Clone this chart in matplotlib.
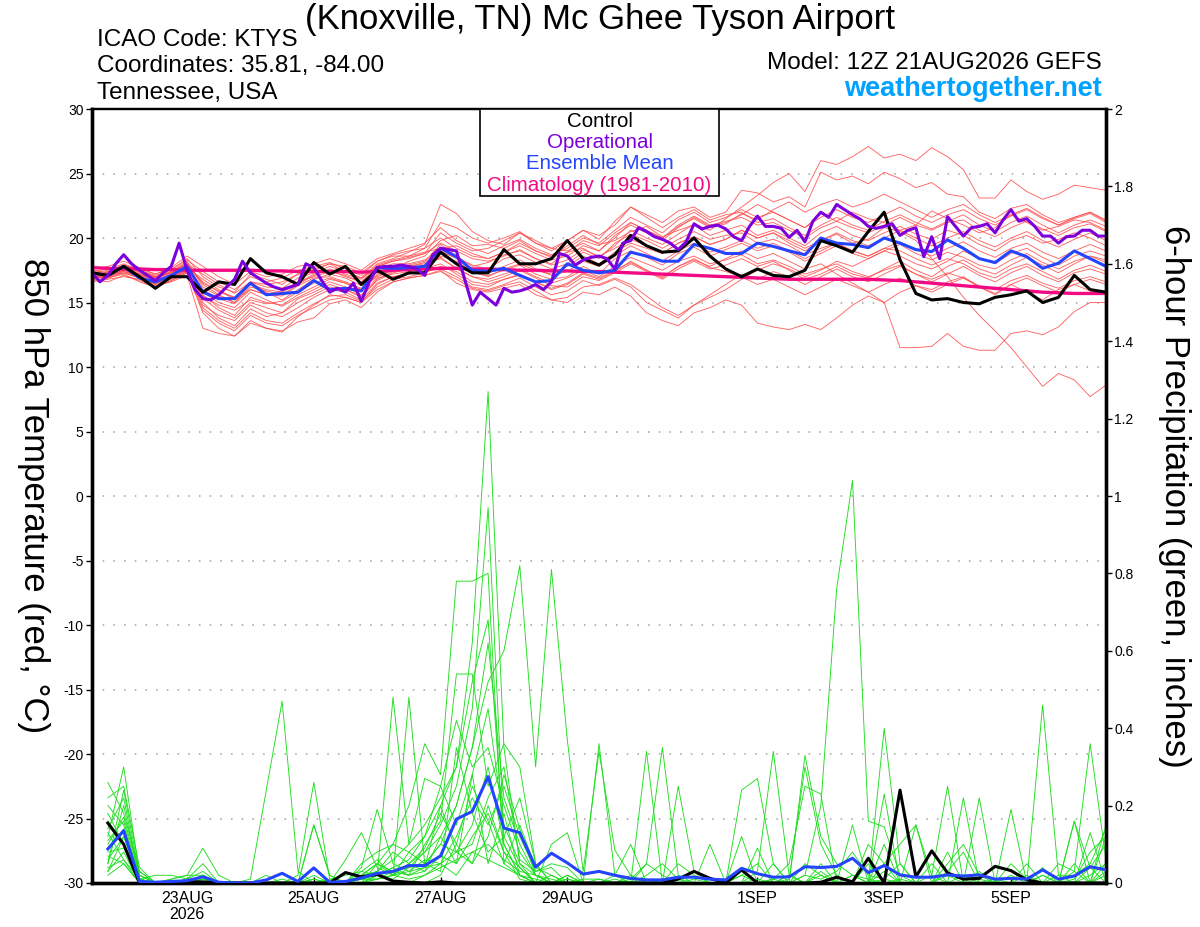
import numpy as np
import matplotlib
matplotlib.use("Agg")
import matplotlib.pyplot as plt
from matplotlib.patches import Rectangle

plt.rcParams['font.family'] = ['Liberation Sans', 'DejaVu Sans']

# ---------------- data ----------------
step_hours = 6            # ensemble output interval
oper_step_hours = 3       # operational output interval
n_steps = 64

x_tick_hours = [36, 84, 132, 180, 252, 300, 348]
x_tick_labels = ["23AUG\n2026", "25AUG", "27AUG", "29AUG", "1SEP", "3SEP", "5SEP"]
temp_ticks = [-30, -25, -20, -15, -10, -5, 0, 5, 10, 15, 20, 25, 30]
precip_ticks = [0, 0.2, 0.4, 0.6, 0.8, 1, 1.2, 1.4, 1.6, 1.8, 2]
precip_tick_labels = ["0", "0.2", "0.4", "0.6", "0.8", "1", "1.2", "1.4", "1.6", "1.8", "2"]

control_temp = [17.3, 17.1, 17.8, 17.0, 16.1, 17.0, 17.0, 15.8, 16.6, 16.4, 18.4, 17.3, 17.0,
                16.4, 18.1, 17.2, 17.8, 16.4, 17.5, 16.8, 17.3, 17.3, 18.9, 18.0, 17.3, 17.3,
                19.1, 18.0, 18.0, 18.4, 19.8, 18.4, 17.9, 18.7, 20.2, 19.4, 18.9, 19.0, 20.0,
                18.6, 17.6, 17.0, 17.6, 17.1, 17.0, 17.5, 19.8, 19.4, 18.9, 20.5, 22.0, 18.3,
                15.7, 15.2, 15.3, 15.0, 14.9, 15.4, 15.6, 15.9, 15.0, 15.4, 17.1, 16.0, 15.8]

mean_temp = [17.3, 17.1, 17.8, 16.9, 16.6, 17.1, 17.8, 15.8, 15.3, 15.3, 16.5, 15.6, 15.7,
             15.8, 16.7, 16.0, 16.1, 15.9, 17.7, 17.65, 17.7, 17.8, 19.2, 18.55, 17.5, 17.4,
             17.65, 17.1, 16.6, 16.7, 18.0, 17.5, 17.3, 17.5, 18.9, 18.6, 18.2, 18.2, 19.5,
             19.2, 18.8, 18.8, 19.6, 19.35, 19.0, 18.7, 20.0, 19.6, 19.5, 19.25, 20.0, 19.6,
             19.1, 18.95, 19.85, 19.2, 18.4, 18.1, 19.0, 18.55, 17.65, 18.05, 19.0, 18.4, 17.8]

clim_temp = [17.7, 17.65, 17.6, 17.6, 17.55, 17.55, 17.5, 17.5, 17.5, 17.5, 17.5, 17.45, 17.45,
             17.4, 17.4, 17.4, 17.4, 17.35, 17.4, 17.5, 17.55, 17.6, 17.65, 17.65, 17.6, 17.6,
             17.55, 17.5, 17.5, 17.45, 17.45, 17.4, 17.4, 17.35, 17.3, 17.25, 17.2, 17.15, 17.1,
             17.05, 17.0, 16.95, 16.9, 16.85, 16.8, 16.8, 16.8, 16.8, 16.8, 16.8, 16.75, 16.7,
             16.6, 16.5, 16.4, 16.3, 16.2, 16.1, 16.0, 15.9, 15.8, 15.75, 15.7, 15.7, 15.7]

oper_temp = [17.3, 16.6, 17.1, 18.0, 18.7, 18.0, 17.5, 17.1, 16.7, 17.3, 17.8, 19.6, 17.5,
             16.0, 15.3, 15.2, 15.6, 16.2, 16.8, 18.2, 17.3, 16.9, 16.5, 16.2, 16.0, 16.2,
             16.4, 18.0, 17.7, 16.7, 15.8, 16.1, 15.8, 16.5, 15.1, 16.6, 17.7, 17.8, 17.8,
             17.9, 17.8, 17.6, 17.1, 18.7, 19.2,
             19.1, 19.0, 16.9, 14.8, 15.8, 15.3, 14.8, 16.1, 15.8, 15.9, 16.1, 16.4, 16.0,
             16.6, 18.8, 18.6, 17.9, 18.3, 18.5, 18.6, 18.4, 17.6, 19.6, 19.8, 20.8, 20.5,
             20.1, 19.9, 19.6, 19.1, 19.7, 21.1, 20.7, 20.9, 21.0, 20.7, 20.1, 19.8, 20.9,
             21.7, 20.9, 20.9, 20.75, 20.05,
             20.6, 19.7, 21.3, 22.0, 21.6, 22.6, 22.2, 21.8, 21.45, 20.9, 20.75, 20.9, 21.1,
             20.2, 20.6, 20.8, 18.55, 20.1, 18.4, 21.65, 20.9, 20.15, 20.8, 20.9, 21.1, 20.4,
             21.4, 22.2, 21.3, 21.5, 20.9, 20.15, 20.15, 19.6, 20.1, 20.15, 20.6, 20.6, 20.15,
             20.15]

temp_m01 = [16.8, 17.0, 17.5, 17.1, 16.5, 17.0, 17.6, 15.0, 13.8, 13.2, 14.5, 13.9, 14.2, 15.3,
            15.8, 16.4, 16.0, 15.4, 16.8, 17.4, 17.9, 18.2, 19.5, 18.6, 17.8, 18.1, 18.7, 19.0,
            18.4, 18.0, 18.9, 19.2, 18.5, 19.4, 20.6, 20.0, 19.5, 20.3, 21.1, 20.6, 21.5, 22.4,
            23.3, 24.3, 25.0, 23.6, 26.0, 25.7, 26.3, 27.1, 26.2, 26.5, 26.0, 27.0, 26.3, 25.3,
            23.1, 23.1, 24.5, 23.6, 23.0, 23.4, 24.1, 23.9, 23.7]
temp_m02 = [17.3, 17.5, 17.9, 17.4, 17.0, 17.4, 18.2, 16.2, 15.5, 15.0, 16.4, 16.0, 15.8, 16.5,
            17.2, 17.5, 17.0, 16.6, 17.8, 18.2, 18.4, 18.8, 20.4, 19.6, 19.0, 19.2, 19.8, 20.4,
            19.6, 19.0, 19.8, 20.6, 19.9, 21.3, 22.4, 21.8, 21.2, 22.1, 22.4, 21.6, 22.0, 23.7,
            23.5, 22.8, 23.2, 22.4, 25.1, 24.5, 24.8, 24.2, 25.1, 24.6, 23.9, 24.3, 23.4, 23.2,
            22.0, 21.5, 22.3, 22.6, 21.8, 21.2, 21.6, 22.0, 21.3]
temp_m03 = [16.9, 17.1, 17.3, 16.9, 16.4, 16.9, 17.4, 15.5, 14.8, 14.4, 15.2, 14.9, 15.1, 15.8,
            16.5, 16.9, 16.5, 16.0, 17.2, 17.8, 17.6, 17.9, 18.6, 18.2, 17.4, 17.0, 17.6, 18.0,
            17.5, 17.2, 17.8, 18.6, 18.0, 18.9, 19.6, 19.2, 18.8, 19.6, 20.1, 19.5, 19.9, 20.6,
            20.0, 20.4, 19.6, 19.0, 19.8, 20.3, 19.6, 19.9, 20.8, 20.5, 19.8, 18.4, 17.0, 15.4,
            14.0, 12.8, 11.5, 10.0, 8.5, 9.5, 9.0, 7.7, 8.6]
temp_m04 = [17.1, 16.9, 17.2, 16.6, 16.2, 16.7, 17.3, 14.2, 13.0, 12.4, 13.6, 13.0, 12.7, 13.9,
            14.8, 15.6, 15.4, 15.0, 16.4, 17.0, 17.2, 17.6, 18.0, 17.2, 16.4, 16.2, 16.8, 17.1,
            16.6, 16.0, 16.4, 17.2, 16.8, 17.4, 18.2, 17.5, 16.9, 17.8, 18.3, 17.8, 18.4, 19.0,
            18.4, 18.8, 18.2, 17.6, 18.0, 17.2, 16.5, 15.8, 15.0, 11.5, 11.5, 11.6, 12.6, 11.6,
            11.3, 11.3, 12.6, 12.8, 12.5, 13.1, 14.3, 15.0, 15.0]
temp_m05 = [16.6, 16.8, 17.0, 16.8, 16.3, 16.6, 17.1, 13.0, 12.6, 12.4, 13.4, 13.0, 12.8, 13.5,
            13.8, 14.9, 15.2, 14.6, 15.8, 16.6, 16.9, 17.1, 17.5, 16.5, 16.0, 15.8, 16.1, 16.4,
            15.6, 15.2, 15.0, 15.8, 15.6, 16.2, 15.5, 14.2, 13.6, 13.2, 14.2, 14.6, 15.2, 14.8,
            13.4, 13.1, 12.9, 13.3, 12.9, 13.8, 14.8, 15.5, 15.0, 15.8, 16.3, 16.0, 16.6, 17.0,
            16.2, 15.6, 16.4, 15.8, 15.2, 16.0, 16.4, 15.9, 15.6]
temp_m06 = [17.4, 17.6, 18.0, 17.5, 17.1, 17.5, 18.4, 17.0, 16.2, 15.8, 17.2, 16.8, 16.4, 17.2,
            17.6, 18.0, 17.4, 16.9, 18.0, 18.4, 18.9, 19.5, 22.6, 21.9, 20.5, 19.8, 19.5, 20.4,
            19.8, 19.2, 19.0, 19.6, 19.0, 20.2, 21.0, 20.4, 19.8, 20.8, 21.6, 20.9, 21.2, 21.8,
            22.6, 22.0, 21.4, 20.8, 21.9, 21.3, 22.0, 21.5, 21.2, 20.6, 21.0, 22.1, 21.5, 21.0,
            20.4, 20.8, 21.8, 21.2, 20.6, 20.9, 21.4, 21.2, 20.6]
temp_m07 = [17.2, 17.0, 17.7, 17.2, 16.9, 17.3, 17.9, 16.5, 15.9, 15.4, 16.6, 15.8, 15.2, 16.0,
            16.8, 17.2, 16.9, 16.3, 17.4, 17.6, 18.2, 18.6, 19.8, 20.2, 19.4, 19.5, 19.2, 19.8,
            19.0, 18.6, 19.4, 20.2, 19.5, 19.8, 20.5, 20.9, 20.1, 20.6, 21.0, 20.2, 20.6, 21.0,
            20.2, 20.6, 20.0, 19.4, 20.4, 20.9, 20.2, 19.8, 20.4, 20.9, 20.3, 19.9, 20.6, 20.2,
            19.5, 19.0, 19.8, 20.2, 19.6, 19.9, 20.4, 20.0, 19.4]
temp_m08 = [16.9, 17.3, 17.5, 17.0, 16.6, 17.1, 17.6, 15.8, 15.0, 14.6, 15.8, 15.2, 14.7, 15.4,
            16.0, 16.6, 16.2, 15.6, 16.9, 17.2, 17.4, 17.8, 18.8, 18.0, 17.3, 17.1, 17.5, 17.9,
            17.2, 16.8, 17.0, 17.8, 17.2, 18.4, 19.0, 18.5, 17.9, 18.8, 19.3, 18.6, 19.1, 19.6,
            19.0, 19.4, 18.9, 18.2, 18.8, 19.4, 18.8, 18.4, 19.0, 19.5, 18.8, 18.3, 18.9, 18.5,
            17.9, 17.6, 18.3, 18.8, 18.1, 17.6, 18.2, 18.6, 18.1]
temp_m09 = [17.0, 16.9, 17.6, 17.2, 16.7, 17.0, 17.7, 16.8, 16.0, 15.2, 16.0, 15.6, 15.9, 16.6,
            17.0, 17.4, 17.1, 16.6, 17.6, 18.0, 18.0, 18.3, 18.9, 18.5, 17.9, 17.6, 18.4, 18.7,
            18.1, 17.6, 18.0, 18.9, 18.4, 19.6, 20.3, 19.8, 19.2, 19.9, 20.5, 19.9, 20.2, 20.4,
            19.6, 19.9, 19.4, 18.7, 19.2, 19.6, 19.0, 18.6, 19.2, 19.0, 18.4, 17.9, 18.4, 18.0,
            17.3, 16.9, 17.6, 18.0, 17.4, 16.8, 17.5, 17.9, 17.4]
temp_m10 = [17.2, 17.4, 17.8, 17.3, 16.9, 17.3, 18.0, 16.0, 15.3, 14.9, 16.0, 15.6, 15.5, 16.3,
            16.9, 17.0, 16.6, 16.1, 17.0, 17.5, 17.8, 18.0, 18.4, 17.7, 17.0, 16.8, 17.2, 17.6,
            17.0, 16.5, 16.9, 17.5, 17.0, 17.8, 18.5, 18.0, 17.5, 18.2, 18.6, 18.0, 18.3, 18.7,
            18.0, 18.3, 17.8, 17.2, 17.6, 18.0, 17.4, 17.0, 17.5, 17.9, 17.2, 16.8, 17.3, 16.9,
            16.3, 16.0, 16.7, 17.1, 16.5, 16.1, 16.7, 17.0, 16.6]
temp_m11 = [16.7, 16.9, 17.3, 16.9, 16.5, 16.8, 17.4, 14.8, 14.0, 13.6, 14.8, 14.2, 13.9, 14.6,
            15.4, 16.0, 15.8, 15.2, 16.5, 17.0, 17.2, 17.4, 17.6, 17.0, 16.2, 16.0, 16.4, 16.9,
            16.2, 15.6, 15.9, 16.7, 16.3, 16.8, 16.2, 15.0, 14.4, 13.8, 14.8, 15.4, 16.0, 16.8,
            17.5, 18.0, 17.6, 17.0, 17.5, 18.2, 17.8, 18.4, 19.0, 18.6, 18.0, 17.6, 18.2, 19.0,
            18.4, 18.0, 18.8, 19.2, 18.5, 17.9, 18.6, 19.0, 18.6]
temp_m12 = [17.5, 17.3, 17.9, 17.6, 17.2, 17.6, 18.3, 17.4, 16.6, 16.0, 17.0, 16.6, 16.9, 17.5,
            17.8, 18.1, 17.6, 17.1, 18.2, 18.6, 18.6, 18.9, 19.2, 19.4, 18.8, 18.4, 18.9, 19.4,
            18.8, 18.3, 18.6, 19.4, 19.0, 20.0, 21.2, 20.6, 20.0, 21.0, 21.7, 21.0, 21.3, 21.6,
            21.0, 21.2, 20.6, 20.0, 20.8, 21.3, 20.8, 20.4, 21.0, 21.6, 21.0, 20.6, 21.2, 21.4,
            20.6, 20.1, 20.8, 21.3, 20.7, 20.2, 20.8, 21.1, 20.5]
temp_m13 = [16.8, 17.2, 17.4, 17.0, 16.6, 17.0, 17.5, 15.3, 14.4, 13.8, 15.0, 14.6, 14.2, 15.0,
            15.6, 16.2, 16.0, 15.5, 16.7, 17.3, 17.6, 17.8, 18.5, 17.6, 17.0, 16.6, 17.0, 17.5,
            16.9, 16.3, 16.2, 17.0, 16.7, 17.3, 18.0, 17.4, 16.8, 17.6, 18.2, 17.6, 17.9, 18.4,
            17.8, 18.2, 17.5, 16.8, 17.2, 17.8, 17.2, 16.9, 17.6, 18.2, 17.5, 17.0, 17.8, 18.3,
            17.6, 17.2, 17.9, 18.5, 17.9, 17.3, 18.0, 18.6, 18.3]
temp_m14 = [17.3, 17.1, 17.8, 17.4, 17.0, 17.3, 18.1, 16.4, 15.6, 15.0, 16.2, 15.9, 15.6, 16.4,
            17.1, 17.6, 17.2, 16.8, 17.9, 18.3, 18.6, 19.2, 21.2, 20.8, 20.0, 19.6, 20.0, 20.5,
            19.6, 19.2, 19.8, 20.6, 20.2, 21.0, 22.4, 21.6, 20.8, 21.6, 22.2, 21.4, 21.8, 22.0,
            21.2, 21.5, 20.8, 20.2, 21.0, 21.6, 21.0, 20.6, 21.3, 21.8, 21.2, 20.7, 21.3, 21.8,
            21.0, 20.5, 21.2, 21.7, 21.0, 20.4, 21.0, 21.4, 20.9]
temp_m15 = [17.0, 17.4, 17.6, 17.1, 16.8, 17.2, 17.8, 15.6, 14.6, 14.0, 15.4, 15.0, 14.8, 15.6,
            16.2, 16.8, 16.5, 16.0, 17.1, 17.5, 17.8, 18.1, 19.0, 18.4, 17.6, 17.3, 17.8, 18.3,
            17.6, 17.1, 17.4, 18.2, 17.8, 18.6, 19.4, 18.8, 18.2, 19.0, 19.6, 18.9, 19.3, 19.8,
            19.2, 19.6, 19.0, 18.4, 19.0, 19.6, 19.0, 18.6, 19.2, 19.7, 19.1, 18.6, 19.2, 19.7,
            19.0, 18.5, 19.2, 19.6, 18.9, 18.4, 19.0, 19.5, 19.0]
temp_m16 = [17.6, 17.8, 18.2, 17.7, 17.2, 17.7, 18.6, 17.8, 17.0, 16.4, 17.4, 17.0, 17.2, 17.8,
            18.0, 18.4, 18.0, 17.5, 18.4, 18.8, 19.2, 19.6, 20.8, 19.8, 19.2, 18.8, 19.4, 19.9,
            19.2, 18.7, 19.2, 20.0, 19.6, 20.6, 21.6, 21.0, 20.4, 21.4, 22.0, 21.2, 21.6, 22.2,
            21.6, 22.0, 21.4, 20.8, 21.6, 22.2, 21.6, 21.2, 21.8, 22.4, 21.7, 21.2, 21.8, 22.2,
            21.5, 21.0, 21.7, 22.2, 21.5, 21.0, 21.6, 22.0, 21.4]
temp_m17 = [16.9, 17.0, 17.4, 17.0, 16.4, 16.9, 17.5, 14.6, 13.6, 13.0, 14.2, 13.6, 13.4, 14.2,
            14.9, 15.5, 15.6, 15.1, 16.2, 16.8, 17.0, 17.3, 17.8, 17.4, 16.6, 16.4, 16.8, 17.2,
            16.6, 16.1, 16.5, 17.3, 16.9, 17.5, 18.1, 17.5, 17.0, 17.8, 18.4, 17.7, 17.4, 17.0,
            16.4, 16.8, 16.2, 15.6, 16.2, 16.8, 16.3, 15.8, 16.4, 16.9, 16.3, 15.8, 16.4, 16.9,
            16.2, 15.7, 16.4, 16.9, 16.3, 15.8, 16.4, 16.8, 16.4]
temp_m18 = [17.1, 17.3, 17.7, 17.2, 16.7, 17.1, 17.9, 16.6, 15.8, 15.4, 16.6, 16.2, 16.1, 16.9,
            17.3, 17.8, 17.4, 16.9, 17.8, 18.2, 18.5, 18.8, 19.6, 19.0, 18.4, 18.2, 18.6, 19.1,
            18.4, 17.9, 18.3, 19.1, 18.6, 19.2, 19.9, 19.4, 18.8, 19.6, 20.1, 19.5, 19.9, 20.6,
            20.0, 20.4, 19.8, 19.2, 19.8, 20.4, 19.8, 19.4, 20.0, 20.6, 20.0, 19.4, 20.0, 20.5,
            19.8, 19.3, 20.0, 20.5, 19.8, 19.3, 19.9, 20.4, 19.8]
temp_m19 = [16.8, 16.6, 17.1, 16.7, 16.2, 16.7, 17.3, 14.4, 13.4, 12.8, 14.0, 13.4, 13.2, 14.0,
            14.6, 15.2, 15.4, 15.0, 16.0, 16.6, 16.9, 17.1, 17.4, 16.8, 16.1, 15.9, 16.3, 16.6,
            15.9, 15.2, 15.4, 16.2, 16.4, 16.9, 16.4, 15.5, 14.6, 14.0, 14.8, 15.6, 16.4, 17.2,
            16.8, 17.4, 17.0, 16.4, 17.0, 17.6, 17.0, 16.6, 17.2, 17.8, 17.2, 16.6, 17.2, 17.8,
            17.1, 16.6, 17.3, 17.8, 17.1, 16.6, 17.3, 17.6, 17.2]
temp_m20 = [17.4, 17.2, 17.9, 17.5, 17.0, 17.4, 18.0, 17.2, 16.4, 15.7, 16.6, 16.4, 16.6, 17.2,
            17.5, 18.0, 17.8, 17.3, 18.2, 18.7, 19.0, 19.2, 20.0, 19.2, 18.6, 18.4, 18.9, 19.6,
            19.0, 18.5, 18.9, 19.8, 19.4, 20.4, 21.2, 20.6, 20.0, 20.9, 21.5, 20.8, 21.1, 21.9,
            21.4, 22.2, 22.8, 22.0, 22.6, 23.0, 22.4, 22.8, 23.4, 22.8, 22.2, 21.6, 22.2, 22.6,
            21.8, 21.2, 21.8, 22.3, 21.6, 21.0, 21.5, 21.9, 21.2]

# 6-hour precipitation (inches), valid from hour 6 to hour 384
control_precip = [0.155, 0.10, 0, 0, 0, 0.003, 0.003, 0,
                  0, 0, 0, 0, 0, 0, 0, 0.027,
                  0.016, 0.022, 0.005, 0.002, 0, 0.003, 0, 0,
                  0, 0, 0, 0, 0, 0, 0, 0,
                  0, 0, 0, 0, 0.01, 0.03, 0.012, 0,
                  0.034, 0, 0, 0, 0, 0.002, 0.015, 0.003,
                  0.064, 0, 0.24, 0.016, 0.083, 0.026, 0.01, 0.012,
                  0.043, 0.032, 0.008, 0, 0, 0, 0, 0]
mean_precip = [0.088, 0.135, 0.004, 0.002, 0.004, 0.006, 0.016, 0.002,
               0.0, 0.0, 0.008, 0.025, 0.004, 0.039, 0.002, 0.004,
               0.013, 0.025, 0.03, 0.045, 0.045, 0.07, 0.165, 0.185,
               0.275, 0.142, 0.13, 0.041, 0.077, 0.052, 0.023, 0.03,
               0.02, 0.012, 0.008, 0.008, 0.015, 0.015, 0.01, 0.008,
               0.038, 0.024, 0.015, 0.016, 0.042, 0.04, 0.043, 0.064,
               0.027, 0.045, 0.021, 0.015, 0.015, 0.021, 0.018, 0.021,
               0.01, 0.012, 0.01, 0.034, 0.01, 0.018, 0.042, 0.034]

prcp_m01 = [.12, .30, .02, 0, 0, 0, 0, 0,  0, 0, 0, 0, 0, 0, 0, 0,
            .02, .05, .10, .08, .12, .20, .30, .62,  1.27, .35, .05, .02, 0, 0, 0, .01,
            0, 0, .02, .05, .01, 0, 0, 0,  .02, 0, 0, 0, .05, .02, 0, 0,
            0, .03, 0, 0, .02, 0, 0, 0,  0, 0, 0, .04, 0, 0, .02, .05]
prcp_m02 = [.26, .18, .03, 0, .01, .02, .09, .02,  0, 0, 0, 0, 0, 0, .01, .02,
            .03, .02, .01, .04, .08, .15, .25, .45,  .97, .12, .04, 0, .02, 0, 0, 0,
            .01, 0, 0, 0, 0, .03, .01, 0,  .24, .27, .05, 0, .02, .01, .03, .08,
            .02, .01, .05, 0, 0, .02, 0, 0,  0, .05, .01, 0, 0, .16, .04, 0]
prcp_m03 = [.05, .20, .01, 0, 0, 0, 0, 0,  0, 0, 0, 0, 0, 0, 0, 0,
            .05, .08, .10, .20, .36, .28, .78, .78,  .80, .05, .02, 0, 0, .01, 0, 0,
            0, 0, 0, 0, 0, 0, 0, 0,  0, .01, 0, 0, .33, .12, .05, .02,
            0, .01, 0, 0, 0, .05, .10, .02,  0, 0, 0, .02, 0, .01, .08, .12]
prcp_m04 = [.09, .14, 0, 0, 0, 0, 0, 0,  0, 0, 0, 0, 0, .01, 0, 0,
            0, .01, .02, .05, .08, .12, .20, .35,  .52, .60, .82, .30, .81, .37, .03, .34,
            .085, .02, 0, 0, 0, 0, 0, 0,  0, 0, 0, 0, 0, .02, 0, 0,
            0, .23, 0, 0, 0, 0, 0, .03,  0, 0, 0, 0, 0, .05, 0, 0]
prcp_m05 = [.16, .10, 0, 0, 0, 0, .02, 0,  0, .01, .24, .47, .03, 0, 0, 0,
            .01, .03, .06, .10, .15, .22, .30, .52,  .68, .10, .02, 0, 0, .01, 0, 0,
            0, 0, 0, 0, 0, .01, 0, 0,  .02, .05, 0, 0, 0, 0, 0, 0,
            0, .40, .05, 0, 0, 0, 0, .01,  0, 0, 0, .02, 0, 0, 0, .02]
prcp_m06 = [.22, .25, .04, 0, 0, 0, 0, 0,  0, 0, 0, 0, 0, .15, .02, 0,
            .02, .05, .03, .02, .10, .16, .54, .54,  .25, .36, .30, .05, 0, .02, 0, 0,
            0, .01, .05, .35, .02, 0, 0, 0,  0, 0, .01, 0, .02, .20, .76, 1.04,
            .16, .145, .02, 0, 0, 0, .02, 0,  0, 0, 0, 0, 0, 0, 0, 0]
prcp_m07 = [.06, .12, .01, .02, .02, .01, .05, 0,  0, 0, 0, 0, .02, .26, .01, 0,
            .01, .02, .04, .06, .12, .25, .42, .30,  .35, .20, .08, .02, 0, 0, 0, 0,
            0, 0, 0, 0, .25, .03, 0, 0,  0, 0, .05, 0, 0, 0, 0, .02,
            .01, 0, 0, .15, .02, .25, 0, 0,  0, 0, 0, 0, 0, .03, .36, .06]
prcp_m08 = [.03, .08, 0, 0, 0, .01, .03, 0,  0, 0, 0, 0, 0, .15, .02, 0,
            0, .02, .48, .10, .27, .25, .15, .28,  .45, .15, .05, 0, 0, 0, 0, 0,
            0, 0, .01, 0, 0, 0, 0, 0,  0, 0, 0, 0, 0, 0, 0, .15,
            0, 0, 0, 0, 0, 0, 0, .22,  0, 0, 0, 0, 0, 0, 0, 0]
prcp_m09 = [.20, .15, 0, 0, 0, 0, .02, 0,  0, 0, 0, 0, 0, 0, 0, .06,
            .13, .04, .02, .48, .05, .10, .08, .15,  .30, .10, .02, 0, .10, .13, 0, 0,
            .02, .10, 0, 0, 0, 0, 0, 0,  0, 0, .01, .05, .25, .23, 0, 0,
            0, 0, 0, 0, 0, 0, 0, 0,  0, 0, .02, 0, 0, 0, 0, 0]
prcp_m10 = [.04, .06, .01, 0, .01, .02, .02, 0,  0, 0, 0, 0, 0, 0, 0, 0,
            .04, .19, .05, .03, .06, .05, .12, .22,  .15, .25, .12, .03, .04, 0, 0, .36,
            .02, 0, 0, 0, 0, 0, .10, 0,  0, 0, 0, .02, 0, 0, 0, 0,
            0, .10, 0, 0, 0, 0, 0, 0,  0, .19, 0, 0, 0, 0, 0, .12]
prcp_m11 = [.10, .17, .02, 0, 0, 0, 0, 0,  0, 0, 0, 0, 0, .04, 0, 0,
            .02, .03, .08, .05, .09, .18, .10, .25,  .16, .05, .15, .04, .02, 0, 0, 0,
            0, 0, 0, 0, 0, 0, 0, 0,  .12, 0, 0, 0, 0, 0, 0, 0,
            .05, 0, 0, 0, 0, 0, .22, 0,  0, 0, 0, .46, .02, 0, 0, 0]
prcp_m12 = [.14, .22, .01, 0, 0, .01, .01, 0,  0, 0, 0, 0, 0, 0, 0, 0,
            0, .05, .02, .08, .05, .03, .35, .18,  .08, .12, .22, .05, 0, 0, .01, .01,
            0, 0, .34, 0, 0, 0, 0, 0,  0, .03, .34, .02, 0, .05, 0, 0,
            0, 0, 0, 0, 0, 0, 0, 0,  0, 0, 0, 0, 0, .16, 0, .03]
prcp_m13 = [.07, .05, 0, 0, 0, 0, .01, 0,  0, 0, 0, .01, 0, 0, 0, 0,
            .01, .01, .03, .04, .05, .10, .20, .35,  .62, .22, .10, .02, 0, .02, 0, 0,
            0, 0, 0, 0, 0, 0, 0, 0,  0, .09, 0, 0, 0, 0, 0, 0,
            0, .05, .10, .15, 0, 0, 0, 0,  .01, 0, 0, 0, 0, 0, .13, 0]
prcp_m14 = [.18, .10, .01, 0, 0, 0, 0, 0,  0, 0, .02, 0, 0, .02, 0, 0,
            .02, .02, .03, .02, .04, .05, .08, .10,  .22, .30, .06, .03, .05, .04, 0, 0,
            0, 0, .05, .02, 0, 0, 0, 0,  0, 0, 0, .01, .30, .10, .02, 0,
            0, 0, 0, 0, .05, 0, 0, 0,  0, .02, 0, 0, .05, .03, 0, .15]
prcp_m15 = [.02, .05, 0, 0, 0, 0, 0, 0,  0, 0, 0, 0, 0, 0, 0, 0,
            0, .02, .04, .02, .03, .07, .05, .12,  .18, .08, .04, 0, 0, 0, 0, 0,
            0, 0, 0, 0, 0, 0, 0, 0,  0, 0, 0, 0, 0, 0, 0, 0,
            .10, .05, 0, 0, 0, .08, 0, 0,  0, 0, .05, 0, 0, 0, 0, .05]
prcp_m16 = [.08, .09, .03, 0, 0, 0, 0, 0,  0, 0, 0, 0, 0, 0, 0, 0,
            .03, .06, .02, .01, .02, .04, .06, .08,  .10, .06, .03, .02, .01, 0, 0, 0,
            0, .02, 0, 0, .05, .02, 0, 0,  .03, 0, 0, .02, 0, 0, 0, 0,
            0, 0, 0, 0, 0, .03, .08, 0,  0, 0, 0, 0, .02, .02, .05, .14]
prcp_m17 = [.05, .24, .02, 0, 0, 0, .01, 0,  0, 0, 0, 0, 0, .01, 0, 0,
            .01, .01, .02, .03, .04, .20, .08, .05,  .12, .28, .14, .02, 0, 0, 0, 0,
            0, 0, 0, 0, 0, 0, 0, 0,  0, 0, 0, 0, 0, 0, 0, 0,
            0, 0, 0, 0, 0, 0, 0, 0,  0, 0, 0, 0, 0, 0, 0, 0]
prcp_m18 = [.13, .06, 0, 0, 0, 0, 0, 0,  0, 0, 0, 0, 0, 0, 0, 0,
            0, 0, 0, 0, .02, .05, .02, .08,  .06, .04, .02, .01, 0, 0, 0, 0,
            0, 0, 0, .01, 0, 0, 0, 0,  0, 0, 0, 0, 0, .03, 0, .02,
            0, 0, .01, 0, 0, 0, 0, 0,  0, 0, 0, 0, 0, 0, .04, .10]
prcp_m19 = [.03, .12, .01, 0, 0, 0, 0, 0,  0, 0, 0, 0, 0, 0, 0, 0,
            0, 0, 0, 0, 0, .02, .10, .05,  .20, .08, .01, 0, 0, 0, 0, 0,
            0, 0, 0, 0, 0, 0, 0, 0,  0, 0, 0, 0, 0, 0, 0, 0,
            0, 0, 0, 0, 0, 0, 0, 0,  0, 0, 0, 0, 0, 0, 0, 0]
prcp_m20 = [.11, .16, .01, 0, 0, 0, 0, 0,  0, 0, 0, 0, 0, 0, 0, 0,
            0, .01, .02, .05, .03, .12, .05, .28,  .05, .18, .02, 0, 0, 0, 0, 0,
            0, 0, 0, 0, 0, 0, 0, 0,  0, 0, 0, 0, 0, 0, 0, 0,
            0, 0, 0, 0, 0, 0, 0, 0,  0, 0, 0, 0, 0, 0, 0, 0]

temp_members = [temp_m01, temp_m02, temp_m03, temp_m04, temp_m05, temp_m06, temp_m07,
                temp_m08, temp_m09, temp_m10, temp_m11, temp_m12, temp_m13, temp_m14,
                temp_m15, temp_m16, temp_m17, temp_m18, temp_m19, temp_m20]
prcp_members = [prcp_m01, prcp_m02, prcp_m03, prcp_m04, prcp_m05, prcp_m06, prcp_m07,
                prcp_m08, prcp_m09, prcp_m10, prcp_m11, prcp_m12, prcp_m13, prcp_m14,
                prcp_m15, prcp_m16, prcp_m17, prcp_m18, prcp_m19, prcp_m20]

hours = np.arange(n_steps + 1) * step_hours
hours_oper = np.arange(2 * n_steps + 1) * oper_step_hours
hours_prcp = hours[1:]

# ---------------- figure ----------------
fig = plt.figure(figsize=(12, 9.27), dpi=100)
ax = fig.add_axes([92 / 1200, 1 - 883 / 927, (1106 - 92) / 1200, (883 - 109) / 927])
ax2 = ax.twinx()

RED = '#ff4a4a'
GREEN = '#1ede1e'
PURPLE = '#7d00dc'
BLUE = '#2444ff'
PINK = '#f20a84'

for m in temp_members:
    ax.plot(hours, m, color=RED, lw=0.65, alpha=0.85, zorder=2)
ax.plot(hours, clim_temp, color=PINK, lw=2.4, zorder=4, solid_capstyle='butt')
ax.plot(hours, mean_temp, color=BLUE, lw=2.2, zorder=5)
ax.plot(hours, control_temp, color='black', lw=2.2, zorder=6)
ax.plot(hours_oper, oper_temp, color=PURPLE, lw=2.2, zorder=7)

for m in prcp_members:
    ax2.plot(hours_prcp, m, color=GREEN, lw=0.65, zorder=2)
ax2.plot(hours_prcp, control_precip, color='black', lw=2.2, zorder=5)
ax2.plot(hours_prcp, mean_precip, color=BLUE, lw=2.2, zorder=6)

ax.set_xlim(0, n_steps * step_hours)
ax.set_ylim(-30, 30)
ax2.set_ylim(0, 2)

ax.set_yticks(temp_ticks)
ax.set_yticklabels([str(t) for t in temp_ticks])
ax2.set_yticks(precip_ticks)
ax2.set_yticklabels(precip_tick_labels)
ax.set_xticks(x_tick_hours)
ax.set_xticklabels(x_tick_labels, fontsize=11.5, linespacing=1.05)

ax.tick_params(axis='y', direction='out', length=4, width=1, labelsize=10, pad=2)
ax2.tick_params(axis='y', direction='out', length=4, width=1, labelsize=10, pad=2)
ax.tick_params(axis='x', direction='in', length=4, width=1, pad=6)

for t in temp_ticks[1:-1]:
    ax.axhline(t, color='#a0a0a0', lw=1.1, linestyle=(0, (1, 6)), zorder=1)

for a in (ax, ax2):
    a.spines['left'].set_linewidth(2.4)
    a.spines['right'].set_linewidth(2.4)
    a.spines['bottom'].set_linewidth(2.4)
    a.spines['top'].set_linewidth(1.6)

# axis titles (rotated, reading top to bottom)
axis_mid = 1 - ((109 + 883) / 2) / 927
fig.text(33 / 1200, axis_mid, "850 hPa Temperature (red, °C)", fontsize=25,
         rotation=270, ha='center', va='center')
fig.text(1174 / 1200, axis_mid, "6-hour Precipitation (green, inches)", fontsize=25,
         rotation=270, ha='center', va='center')

# legend box
x0 = (480 - 92) / 1014
x1 = (719 - 92) / 1014
y0 = (883 - 196) / 774
ax2.add_patch(Rectangle((x0, y0), x1 - x0, 1 - y0, transform=ax2.transAxes,
                        facecolor='white', edgecolor='black', lw=1.2, zorder=20, clip_on=False))
legend_items = [("Control", 'black'), ("Operational", PURPLE),
                ("Ensemble Mean", BLUE), ("Climatology (1981-2010)", PINK)]
legend_y_px = [121, 142, 163, 185]
for (txt, col), ypx in zip(legend_items, legend_y_px):
    ax2.text((x0 + x1) / 2, (883 - ypx) / 774, txt, transform=ax2.transAxes, color=col,
             fontsize=14.8, ha='center', va='center', zorder=21)

# header
fig.text(600 / 1200, 1 - 19 / 927, "(Knoxville, TN) Mc Ghee Tyson Airport",
         fontsize=25, ha='center', va='center')
fig.text(97 / 1200, 1 - 40 / 927, "ICAO Code: KTYS", fontsize=17.5, ha='left', va='center')
fig.text(97 / 1200, 1 - 66 / 927, "Coordinates: 35.81, -84.00", fontsize=17.5, ha='left', va='center')
fig.text(97 / 1200, 1 - 93 / 927, "Tennessee, USA", fontsize=17.5, ha='left', va='center')
fig.text(1102 / 1200, 1 - 63 / 927, "Model: 12Z 21AUG2026 GEFS", fontsize=17.5, ha='right', va='center')
fig.text(1102 / 1200, 1 - 89 / 927, "weathertogether.net", fontsize=19.5, ha='right', va='center',
         color='#00a2ff', fontweight='bold')

fig.savefig("out.png", dpi=100)
